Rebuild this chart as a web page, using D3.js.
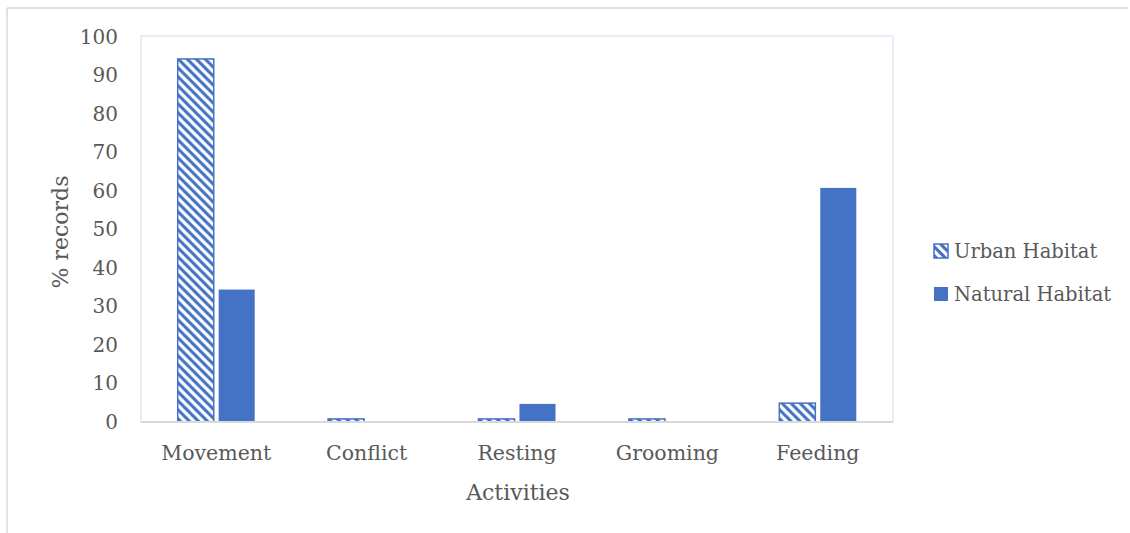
<!DOCTYPE html>
<html>
<head>
<meta charset="utf-8">
<script src="https://cdn.jsdelivr.net/npm/d3@7"></script>
<style>
  html, body { margin: 0; padding: 0; background: #fff; }
  svg { display: block; }
  text { font-family: "DejaVu Serif", serif; fill: #595959; }
</style>
</head>
<body>
<svg id="chart" width="1130" height="533"></svg>
<script>
// Share of behaviour records per activity, by habitat
const categories = ["Movement", "Conflict", "Resting", "Grooming", "Feeding"];
const seriesNames = ["Urban Habitat", "Natural Habitat"];
const urbanValues = [94.3, 0.8, 0.8, 0.8, 4.9];
const naturalValues = [34.4, 0, 4.7, 0, 60.8];
const yTicks = [0, 10, 20, 30, 40, 50, 60, 70, 80, 90, 100];

const blue = "#4472C4";
const svg = d3.select("#chart");
const W = 1130, H = 533;
const plot = { left: 141, right: 893, top: 37, bottom: 422 };
const fs = 20.5;

// striped fill for the urban series
const defs = svg.append("defs");
const pat = defs.append("pattern")
  .attr("id", "stripes")
  .attr("patternUnits", "userSpaceOnUse")
  .attr("width", 9).attr("height", 9);
pat.append("rect").attr("width", 9).attr("height", 9).attr("fill", blue);
pat.append("path")
  .attr("d", "M-3,-3 L12,12 M-3,6 L3,12 M6,-3 L12,3")
  .attr("stroke", "#fff").attr("stroke-width", 3.3);

// outer frame (top and left edges)
svg.append("line").attr("x1", 7).attr("x2", 1128).attr("y1", 8).attr("y2", 8)
  .attr("stroke", "#d9d9d9").attr("stroke-width", 1.5);
svg.append("line").attr("x1", 7).attr("x2", 7).attr("y1", 8).attr("y2", H)
  .attr("stroke", "#d9d9d9").attr("stroke-width", 1.5);

// plot area border
svg.append("rect")
  .attr("x", plot.left).attr("y", 36)
  .attr("width", plot.right - plot.left).attr("height", plot.bottom - 36)
  .attr("fill", "none").attr("stroke", "#dfe6f3").attr("stroke-width", 1.5);

const x0 = d3.scaleBand().domain(categories).range([plot.left, plot.right]).paddingInner(0).paddingOuter(0);
const groupW = 77;
const x1 = d3.scaleBand().domain(seriesNames).range([0, groupW]).paddingInner(0.12);
const y = d3.scaleLinear().domain([0, 100]).range([plot.bottom, plot.top]);

const rows = categories.map((c, i) => ({
  cat: c,
  vals: [
    { s: seriesNames[0], v: urbanValues[i] },
    { s: seriesNames[1], v: naturalValues[i] }
  ]
}));

const groups = svg.append("g").selectAll("g").data(rows).join("g")
  .attr("transform", d => `translate(${x0(d.cat) + (x0.bandwidth() - groupW) / 2},0)`);

groups.selectAll("rect").data(d => d.vals.filter(e => e.v > 0)).join("rect")
  .attr("x", d => x1(d.s))
  .attr("y", d => y(d.v))
  .attr("width", x1.bandwidth())
  .attr("height", d => y(0) - y(d.v))
  .attr("fill", d => d.s === seriesNames[0] ? "url(#stripes)" : blue)
  .attr("stroke", d => d.s === seriesNames[0] ? blue : "none")
  .attr("stroke-width", 1.5);

// baseline
svg.append("line").attr("x1", plot.left).attr("x2", plot.right)
  .attr("y1", y(0)).attr("y2", y(0))
  .attr("stroke", "#d9d9d9").attr("stroke-width", 2);

// y axis labels
const yAxis = d3.axisLeft(y).tickValues(yTicks).tickSize(0).tickPadding(0);
const gy = svg.append("g").attr("transform", "translate(118,0)").call(yAxis);
gy.select(".domain").remove();
gy.selectAll("text").attr("font-size", 20).attr("fill", "#595959")
  .attr("font-family", "DejaVu Serif, serif");

// x axis labels
const xAxis = d3.axisBottom(x0).tickSize(0).tickPadding(0);
const gx = svg.append("g").attr("transform", "translate(0,445)").call(xAxis);
gx.select(".domain").remove();
gx.selectAll("text").attr("font-size", fs).attr("fill", "#595959")
  .attr("font-family", "DejaVu Serif, serif");

// axis titles
svg.append("text").attr("x", 518).attr("y", 500).attr("text-anchor", "middle")
  .attr("font-size", 22).text("Activities");
svg.append("text").attr("transform", "translate(68,232) rotate(-90)")
  .attr("text-anchor", "middle").attr("font-size", 22).text("% records");

// legend
const legend = svg.append("g").selectAll("g").data(seriesNames).join("g")
  .attr("transform", (d, i) => `translate(934,${251 + i * 43})`);
legend.append("rect").attr("x", 0).attr("y", -7).attr("width", 14).attr("height", 14)
  .attr("fill", (d, i) => i === 0 ? "url(#stripes)" : blue)
  .attr("stroke", (d, i) => i === 0 ? blue : "none").attr("stroke-width", 1.5);
legend.append("text").attr("x", 20).attr("y", 7).attr("font-size", 19.5).text(d => d);
</script>
</body>
</html>
